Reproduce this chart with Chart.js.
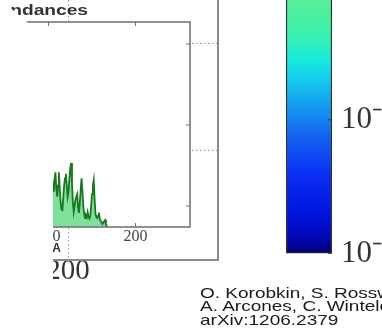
<!DOCTYPE html>
<html>
<head>
<meta charset="utf-8">
<script src="https://cdn.jsdelivr.net/npm/chart.js@4.4.1/dist/chart.umd.min.js"></script>
<style>
  html, body { margin: 0; padding: 0; background: #fff; }
  #wrap { position: relative; width: 382px; height: 335px; overflow: hidden; }
  canvas { position: absolute; }
  #outer, #inset { left: 0; top: 0; }
  #cbar { left: 250px; top: -30px; }
  #title { position: absolute; right: 294px; top: 3px; font: bold 14px "Liberation Sans", Arial, sans-serif; line-height: 14px; color: #333; white-space: nowrap; transform: scaleX(1.37); transform-origin: 100% 0; }
  #credit { position: absolute; left: 200px; top: 287px; font: 14.5px "Liberation Sans", Arial, sans-serif; line-height: 13.3px; color: #1a1a1a; white-space: nowrap; transform: scaleX(1.31); transform-origin: 0 0; }
  #mask { position: absolute; left: 0; top: 0; width: 53px; height: 335px; background: #fff; clip-path: polygon(0 0, 1px 0, 53px 44px, 53px 100%, 0 100%); }
</style>
</head>
<body>
<div id="wrap">
  <canvas id="outer" width="382" height="335"></canvas>
  <canvas id="inset" width="382" height="335"></canvas>
  <canvas id="cbar" width="132" height="311"></canvas>
  <div id="title">Abundances</div>
  <div id="credit">O. Korobkin, S. Rosswog,<br>A. Arcones, C. Winteler<br>arXiv:1206.2379</div>
  <div id="mask"></div>
</div>
<script>
// final abundances Y(A) against mass number A
const massNumbers = [100, 101, 102, 103, 104, 105, 106, 107, 108, 109,
                     110, 111, 112, 113, 114, 115, 116, 117, 118, 119,
                     120, 121, 122, 123, 124, 125, 126, 127, 128, 129,
                     130, 131, 132, 133, 134, 135, 136, 137, 138, 139,
                     140, 141, 142, 143, 144, 145, 146, 147, 148, 149,
                     150, 151, 152, 153, 154, 155, 156, 157, 158, 159,
                     160, 161, 162, 163, 164, 165, 166, 167, 168];
const abundances = [1.6e-4, 1.1e-4, 2.0e-4, 1.2e-4, 1.5e-4, 1.8e-4, 1.5e-4, 2.2e-4, 2.6e-4, 1.6e-4,
                    1.3e-4, 1.8e-4, 2.6e-4, 1.6e-4, 1.1e-4, 9.0e-5, 8.9e-5, 1.3e-4, 1.8e-4, 2.2e-4,
                    2.5e-4, 1.8e-4, 1.3e-4, 1.5e-4, 2.2e-4, 2.9e-4, 3.4e-4, 1.9e-4, 1.1e-4, 8.4e-5,
                    1.0e-4, 1.2e-4, 1.3e-4, 1.4e-4, 9.5e-5, 8.2e-5, 1.1e-4, 1.6e-4, 2.2e-4, 1.5e-4,
                    1.0e-4, 8.0e-5, 7.1e-5, 7.6e-5, 7.2e-5, 8.4e-5, 7.4e-5, 7.0e-5, 7.5e-5, 1.0e-4,
                    1.4e-4, 1.8e-4, 2.1e-4, 1.2e-4, 8.0e-5, 7.3e-5, 7.1e-5, 7.6e-5, 8.3e-5, 6.9e-5,
                    6.5e-5, 6.3e-5, 6.0e-5, 6.2e-5, 6.5e-5, 6.7e-5, 6.0e-5, 5.6e-5, 5.5e-5];
const insetXTicks = [100, 200];
const insetYTicks = [1e-4, 1e-3, 1e-2];

// big panel behind the inset: only its grid and one tick survive
const outerXTicks = [200];
const outerYTicks = [1, 2];

// colour bar
const colorbarRange = [1e-5, 8.21e-4];
const colorbarTicks = [1e-5, 1e-4];

const gradStops = [0, 0.055, 0.158, 0.313, 0.45, 0.57, 0.69, 0.76, 0.845, 0.897, 1];
const gradColors = ['#000070', '#0008b0', '#0014e0', '#0a30f4', '#1460f0', '#1498f0',
                    '#14d0ec', '#18ecd8', '#38f0b4', '#44f0a4', '#58f098'];

const serif = '"Liberation Serif", "Times New Roman", serif';
const sup = { '-': '⁻', '0': '⁰', '1': '¹', '2': '²', '3': '³', '4': '⁴', '5': '⁵', '6': '⁶', '7': '⁷', '8': '⁸', '9': '⁹' };
const pow10 = v => '10' + String(Math.round(Math.log10(v))).split('').map(c => sup[c]).join('');
const setTicks = list => s => { s.ticks = list.map(v => ({ value: v })); };

const outerDecor = {
    id: 'outerDecor',
    afterDraw(chart) {
        const { ctx, chartArea: a } = chart;
        ctx.save();
        ctx.strokeStyle = '#8a8a8a';
        ctx.lineWidth = 2;
        ctx.beginPath();
        ctx.moveTo(a.right, a.top);
        ctx.lineTo(a.right, a.bottom);
        ctx.lineTo(a.left, a.bottom);
        ctx.stroke();
        ctx.restore();
    }
};

const insetDecor = {
    id: 'insetDecor',
    beforeDraw(chart) {
        const { ctx, chartArea: a } = chart;
        ctx.save();
        ctx.fillStyle = '#fff';
        ctx.fillRect(a.left, a.top, a.right - a.left, a.bottom - a.top);
        ctx.restore();
    },
    afterDraw(chart) {
        const { ctx, chartArea: a, scales } = chart;
        ctx.save();
        ctx.strokeStyle = '#767676';
        ctx.lineWidth = 1.6;
        ctx.strokeRect(a.left, a.top, a.right - a.left, a.bottom - a.top);
        // inward ticks
        ctx.lineWidth = 1;
        ctx.beginPath();
        scales.x.ticks.forEach(t => {
            const px = scales.x.getPixelForValue(t.value);
            ctx.moveTo(px, a.top); ctx.lineTo(px, a.top + 4);
            ctx.moveTo(px, a.bottom); ctx.lineTo(px, a.bottom - 4);
        });
        scales.y.ticks.forEach(t => {
            const py = scales.y.getPixelForValue(t.value);
            ctx.moveTo(a.right, py); ctx.lineTo(a.right - 4, py);
        });
        ctx.stroke();
        // axis name
        ctx.fillStyle = '#333';
        ctx.font = 'bold 12px "Liberation Sans", Arial, sans-serif';
        ctx.textAlign = 'right';
        ctx.fillText('A', 61, 252);
        ctx.restore();
    }
};

const cbarDecor = {
    id: 'cbarDecor',
    afterDraw(chart) {
        const { ctx, chartArea: a, scales } = chart;
        ctx.save();
        ctx.strokeStyle = '#333';
        ctx.lineWidth = 1;
        ctx.beginPath();
        scales.y.ticks.forEach(t => {
            const py = scales.y.getPixelForValue(t.value);
            ctx.moveTo(a.right, py); ctx.lineTo(a.right - 4, py);
        });
        ctx.stroke();
        ctx.restore();
    }
};

const common = {
    responsive: false,
    animation: false,
    events: [],
    plugins: { legend: { display: false }, tooltip: { enabled: false } }
};

new Chart(document.getElementById('outer'), {
    type: 'scatter',
    data: { datasets: [] },
    options: {
        ...common,
        layout: { padding: { left: 0, top: 0, right: 164, bottom: 0 } },
        scales: {
            x: {
                type: 'linear', min: 175, max: 255.147,
                afterBuildTicks: setTicks(outerXTicks),
                afterFit: s => { s.height = 75; },
                grid: { color: '#9a9a9a', lineWidth: 1, drawTicks: false },
                border: { display: false, dash: [1.5, 2.5] },
                ticks: { color: '#333', padding: -3, font: { family: serif, size: 29, lineHeight: 1 } }
            },
            y: {
                type: 'linear', min: -0.028, max: 2.402,
                afterBuildTicks: setTicks(outerYTicks),
                afterFit: s => { s.width = 0; },
                grid: { color: '#9a9a9a', lineWidth: 1, drawTicks: false },
                border: { display: false, dash: [1.5, 2.5] },
                ticks: { display: false }
            }
        }
    },
    plugins: [outerDecor]
});

new Chart(document.getElementById('inset'), {
    type: 'line',
    data: {
        datasets: [{
            data: massNumbers.map((a, i) => ({ x: a, y: abundances[i] })),
            borderColor: '#17781f',
            borderWidth: 1.8,
            backgroundColor: '#80e09a',
            fill: 'start',
            pointRadius: 0,
            tension: 0
        }]
    },
    options: {
        ...common,
        layout: { padding: { left: 5, top: 22, right: 192, bottom: 0 } },
        scales: {
            x: {
                type: 'linear', min: 50, max: 262.64,
                afterBuildTicks: setTicks(insetXTicks),
                afterFit: s => { s.height = 108; },
                grid: { display: false, drawTicks: false },
                border: { display: false },
                ticks: { color: '#444', padding: 2, autoSkip: false, font: { family: serif, size: 16, lineHeight: 1 } }
            },
            y: {
                type: 'logarithmic', position: 'right', min: 5.5e-5, max: 0.0187,
                afterBuildTicks: setTicks(insetYTicks),
                afterFit: s => { s.width = 0; },
                grid: { display: false, drawTicks: false },
                border: { display: false },
                ticks: { display: false }
            }
        }
    },
    plugins: [insetDecor]
});

new Chart(document.getElementById('cbar'), {
    type: 'bar',
    data: {
        labels: ['Y'],
        datasets: [{
            data: [colorbarRange],
            barPercentage: 1,
            categoryPercentage: 1,
            borderColor: '#333',
            borderWidth: 1.5,
            borderSkipped: false,
            backgroundColor: ctx => {
                const a = ctx.chart.chartArea;
                if (!a) return gradColors[0];
                const g = ctx.chart.ctx.createLinearGradient(0, a.bottom, 0, a.top);
                gradStops.forEach((s, i) => g.addColorStop(s, gradColors[i]));
                return g;
            }
        }]
    },
    options: {
        ...common,
        layout: { padding: { left: 36, top: 0, right: 0, bottom: 20 } },
        scales: {
            x: { display: false },
            y: {
                type: 'logarithmic', position: 'right',
                min: colorbarRange[0], max: colorbarRange[1],
                afterBuildTicks: setTicks(colorbarTicks),
                afterFit: s => { s.width = 50; },
                grid: { display: false, drawTicks: false },
                border: { display: false },
                ticks: { color: '#333', padding: 9, autoSkip: false, callback: v => pow10(v), font: { family: serif, size: 31 } }
            }
        }
    },
    plugins: [cbarDecor]
});
</script>
</body>
</html>
